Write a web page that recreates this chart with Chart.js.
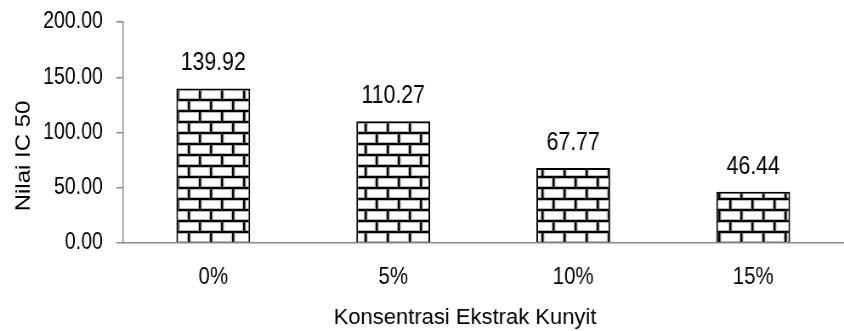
<!DOCTYPE html>
<html>
<head>
<meta charset="utf-8">
<script src="https://cdn.jsdelivr.net/npm/chart.js@4/dist/chart.umd.min.js"></script>
<style>
  html, body { margin: 0; padding: 0; background: #fff; overflow: hidden; }
  #wrap { width: 844px; height: 331px; overflow: hidden; }
  /* the chart is laid out on a wider canvas and squeezed horizontally,
     which gives the tall, condensed lettering of the original figure */
  #c { transform: scaleX(0.85); transform-origin: 0 0; }
</style>
</head>
<body>
<div id="wrap"><canvas id="c" width="993" height="331"></canvas></div>
<script>
// IC50 values per turmeric extract concentration
const categories = ['0%', '5%', '10%', '15%'];
const ic50Values = [139.92, 110.27, 67.77, 46.44];
const yTicks = [0, 50, 100, 150, 200];
const xTitle = 'Konsentrasi Ekstrak Kunyit';
const yTitle = 'Nilai IC 50';

const SQUEEZE = 0.85;               // horizontal squeeze applied by CSS
const FONT = "'Liberation Sans', Arial, sans-serif";
const AXIS_GREY = '#8a8a8a';

// Brick fill: courses 11px high, bricks ~22px long on screen, staggered by half a brick
function brickPattern() {
  const w = 26, h = 22, half = 13;
  const t = document.createElement('canvas');
  t.width = w; t.height = h;
  const g = t.getContext('2d');
  g.fillStyle = '#ffffff';
  g.fillRect(0, 0, w, h);
  // soft grey edge inside each brick
  g.fillStyle = '#b8b8b8';
  g.fillRect(0, 2, w, 1); g.fillRect(0, 10, w, 1);
  g.fillRect(0, 13, w, 1); g.fillRect(0, 21, w, 1);
  g.fillRect(2.5, 2, 1.2, 9); g.fillRect(w - 1.2, 2, 1.2, 9);
  g.fillRect(half + 2.5, 13, 1.2, 9); g.fillRect(half - 1.2, 13, 1.2, 9);
  // mortar
  g.fillStyle = '#000000';
  g.fillRect(0, 0, w, 2);
  g.fillRect(0, 11, w, 2);
  g.fillRect(0, 2, 2.5, 9);
  g.fillRect(half, 13, 2.5, 9);
  return g.createPattern(t, 'repeat');
}

// Value labels above each bar
const valueLabels = {
  id: 'valueLabels',
  afterDatasetsDraw(chart) {
    const ctx = chart.ctx;
    const meta = chart.getDatasetMeta(0);
    ctx.save();
    ctx.fillStyle = '#000';
    ctx.font = '25px ' + FONT;
    ctx.textAlign = 'center';
    ctx.textBaseline = 'alphabetic';
    meta.data.forEach((bar, i) => {
      const v = chart.data.datasets[0].data[i];
      ctx.fillText(v.toFixed(2), bar.x, bar.y - 18);
    });
    ctx.restore();
  }
};

// Axis titles (the x title keeps normal letter widths)
const axisTitles = {
  id: 'axisTitles',
  afterDraw(chart) {
    const ctx = chart.ctx;
    ctx.save();
    ctx.fillStyle = '#000';
    ctx.textAlign = 'center';
    ctx.textBaseline = 'middle';

    ctx.save();
    ctx.font = '22px ' + FONT;
    ctx.translate(465 / SQUEEZE, 318);
    ctx.scale(1 / SQUEEZE, 1);
    ctx.fillText(xTitle, 0, 0);
    ctx.restore();

    ctx.font = '24px ' + FONT;
    ctx.translate(24 / SQUEEZE, 156);
    ctx.rotate(-Math.PI / 2);
    ctx.fillText(yTitle, 0, 0);
    ctx.restore();
  }
};

new Chart(document.getElementById('c'), {
  type: 'bar',
  data: {
    labels: categories,
    datasets: [{
      data: ic50Values,
      backgroundColor: brickPattern(),
      borderColor: '#000',
      borderWidth: 2,
      borderSkipped: 'bottom',
      categoryPercentage: 1,
      barPercentage: 0.41
    }]
  },
  options: {
    responsive: false,
    animation: false,
    devicePixelRatio: 1,
    layout: { padding: { top: 22, right: 1, left: 0, bottom: 0 } },
    plugins: { legend: { display: false }, tooltip: { enabled: false } },
    scales: {
      x: {
        grid: { display: false },
        border: { display: true, color: AXIS_GREY, width: 1.5 },
        ticks: { color: '#000', font: { family: FONT, size: 24 }, padding: 12 },
        afterFit(scale) { scale.height = 88; }
      },
      y: {
        min: 0,
        max: 200,
        afterBuildTicks(scale) { scale.ticks = yTicks.map(v => ({ value: v })); },
        grid: { display: true, drawOnChartArea: false, drawTicks: true, tickLength: 8, color: AXIS_GREY, lineWidth: 1.5 },
        border: { display: true, color: AXIS_GREY, width: 1.5 },
        ticks: {
          color: '#000',
          font: { family: FONT, size: 23 },
          padding: 16,
          callback: v => Number(v).toFixed(2)
        },
        afterFit(scale) {
          scale.width = 145;
          // the top/bottom labels may overhang the plot; the layout padding covers them
          scale.paddingTop = 0;
          scale.paddingBottom = 0;
        }
      }
    }
  },
  plugins: [valueLabels, axisTitles]
});
</script>
</body>
</html>
